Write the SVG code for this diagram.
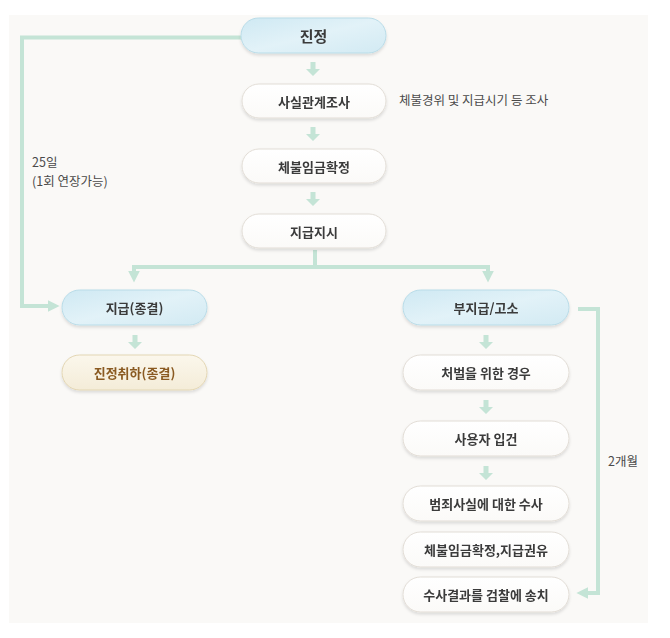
<svg xmlns="http://www.w3.org/2000/svg" width="670" height="638" viewBox="0 0 670 638">
<defs>
<style>
.t{font-family:"Noto Sans CJK KR","Noto Sans",sans-serif;font-weight:700;font-size:13px;fill:#3a3a3a;text-anchor:middle;dominant-baseline:central}
.big{font-size:15px}
.brown{fill:#8a5a20}
.note{font-family:"Noto Sans CJK KR","Noto Sans",sans-serif;font-weight:400;font-size:12.5px;fill:#4a4a4a}
.w{fill:url(#gw);stroke:#e2ddd6;stroke-width:1}
.b{fill:url(#gb);stroke:#b9dce8;stroke-width:1}
.c{fill:url(#gc);stroke:#e3d6b3;stroke-width:1}
.ln{fill:none;stroke:#c4e4d6;stroke-width:4}
.da{fill:#c4e4d6}
</style>
<linearGradient id="gw" x1="0" y1="0" x2="0" y2="1">
<stop offset="0" stop-color="#ffffff"/><stop offset="1" stop-color="#fbfaf8"/>
</linearGradient>
<linearGradient id="gb" x1="0" y1="0" x2="1" y2="1">
<stop offset="0" stop-color="#cfe9f3"/><stop offset="0.5" stop-color="#e2f2f8"/><stop offset="1" stop-color="#d2eaf3"/>
</linearGradient>
<linearGradient id="gc" x1="0" y1="0" x2="0" y2="1">
<stop offset="0" stop-color="#fbf7ec"/><stop offset="1" stop-color="#f4ecd8"/>
</linearGradient>
<filter id="sh" x="-10%" y="-20%" width="120%" height="150%">
<feDropShadow dx="0" dy="2" stdDeviation="1.5" flood-color="#000" flood-opacity="0.12"/>
</filter>
<marker id="ah" viewBox="0 0 10 10" refX="2" refY="5" markerWidth="3" markerHeight="3" orient="auto" markerUnits="strokeWidth">
<path d="M0,0 L10,5 L0,10 z" fill="#c4e4d6"/>
</marker>
<path id="dn" d="M-2.5,0 h5 v7 h4.5 l-7,7 l-7,-7 h4.5 z"/>
</defs>
<rect x="0" y="0" width="670" height="638" fill="#ffffff"/>
<rect x="9" y="15" width="639" height="608" fill="#faf9f7"/>

<g id="connectors">
<path class="ln" d="M241,37.5 H22 V306 H50" marker-end="url(#ah)"/>
<path class="ln" d="M315,250 V267"/>
<path class="ln" d="M132,267 H490"/>
<path class="ln" d="M134,265 V273" marker-end="url(#ah)"/>
<path class="ln" d="M488,265 V273" marker-end="url(#ah)"/>
<path class="ln" d="M578,309 H598 V593 H586" marker-end="url(#ah)"/>
<use href="#dn" class="da" x="313" y="62"/>
<use href="#dn" class="da" x="313" y="127"/>
<use href="#dn" class="da" x="313" y="192"/>
<use href="#dn" class="da" x="135" y="335"/>
<use href="#dn" class="da" x="486" y="335"/>
<use href="#dn" class="da" x="486" y="400"/>
<use href="#dn" class="da" x="486" y="466"/>
</g>

<g id="n-jinjeong" filter="url(#sh)">
<rect class="b" x="241" y="18" width="145" height="35" rx="17.5"/>
<text class="t big" x="313.5" y="35.5">진정</text>
</g>
<g id="n-sasil" filter="url(#sh)">
<rect class="w" x="242" y="84" width="144" height="34" rx="17"/>
<text class="t" x="314" y="101">사실관계조사</text>
</g>
<g id="n-chebul" filter="url(#sh)">
<rect class="w" x="242" y="149" width="144" height="34" rx="17"/>
<text class="t" x="314" y="166">체불임금확정</text>
</g>
<g id="n-jigeupjisi" filter="url(#sh)">
<rect class="w" x="242" y="214" width="144" height="34" rx="17"/>
<text class="t" x="314" y="231">지급지시</text>
</g>
<g id="n-jigeup" filter="url(#sh)">
<rect class="b" x="62" y="290" width="145" height="35" rx="17.5"/>
<text class="t" x="134.5" y="307.5">지급(종결)</text>
</g>
<g id="n-chwiha" filter="url(#sh)">
<rect class="c" x="62" y="355" width="145" height="35" rx="17.5"/>
<text class="t brown" x="134.5" y="372.5">진정취하(종결)</text>
</g>
<g id="n-bujigeup" filter="url(#sh)">
<rect class="b" x="403" y="290" width="166" height="35" rx="17.5"/>
<text class="t" x="486" y="307.5">부지급/고소</text>
</g>
<g id="n-cheobeol" filter="url(#sh)">
<rect class="w" x="403" y="355" width="166" height="35" rx="17.5"/>
<text class="t" x="486" y="372.5">처벌을 위한 경우</text>
</g>
<g id="n-ipgeon" filter="url(#sh)">
<rect class="w" x="403" y="421" width="166" height="35" rx="17.5"/>
<text class="t" x="486" y="438.5">사용자 입건</text>
</g>
<g id="n-susa" filter="url(#sh)">
<rect class="w" x="403" y="486" width="166" height="35" rx="17.5"/>
<text class="t" x="486" y="503.5">범죄사실에 대한 수사</text>
</g>
<g id="n-gwonyu" filter="url(#sh)">
<rect class="w" x="403" y="532" width="166" height="35" rx="17.5"/>
<text class="t" x="486" y="549.5">체불임금확정,지급권유</text>
</g>
<g id="n-songchi" filter="url(#sh)">
<rect class="w" x="403" y="577" width="166" height="35" rx="17.5"/>
<text class="t" x="486" y="594.5">수사결과를 검찰에 송치</text>
</g>

<g id="notes">
<text class="note" x="399" y="105">체불경위 및 지급시기 등 조사</text>
<text class="note" x="32" y="167">25일</text>
<text class="note" x="32" y="186">(1회 연장가능)</text>
<text class="note" x="608" y="466">2개월</text>
</g>
</svg>
